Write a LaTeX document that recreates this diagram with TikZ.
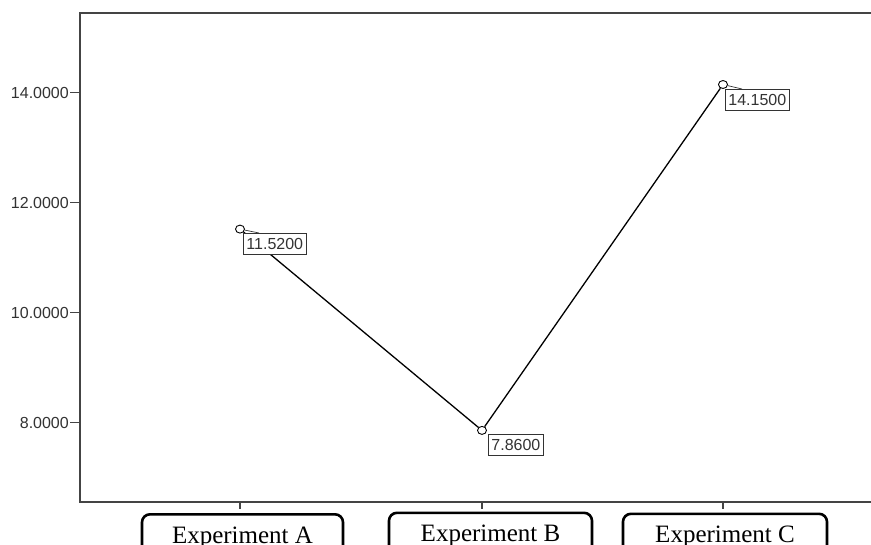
\documentclass[tikz,border=0pt]{standalone}
\usepackage{fontspec}
\setmainfont{Liberation Serif}
\newfontfamily\axfont{Liberation Sans}
\usetikzlibrary{shapes.geometric}
\definecolor{axgray}{HTML}{444444}
\definecolor{txtgray}{HTML}{333333}
\begin{document}
\begin{tikzpicture}[x=1pt,y=-1pt,
  axisline/.style={draw=axgray,line width=1.4pt},
  ticklab/.style={font=\axfont\fontsize{16}{16}\selectfont,text=txtgray,anchor=east,inner sep=0pt},
  ptmark/.style={ellipse,draw=black,line width=0.9pt,minimum width=9pt,minimum height=8pt,inner sep=0pt},
  vallab/.style={draw=txtgray,line width=0.9pt,fill=white,font=\axfont\fontsize{16}{16}\selectfont,text=txtgray,anchor=north west,inner xsep=3pt,inner ysep=2pt,minimum height=21pt},
  catbox/.style={draw=black,line width=2.6pt,rounded corners=8pt,anchor=north,font=\fontsize{25}{25}\selectfont,inner ysep=6pt,text height=23pt,text depth=30pt},
  dataline/.style={draw=black,line width=1.3pt}
]
\clip (0,0) rectangle (871,545);
\fill[white] (0,0) rectangle (871,545);
% frame
\coordinate (tl) at (80,13);
\coordinate (tr) at (871,13);
\coordinate (bl) at (80,502);
\coordinate (br) at (871,502);
\draw[axisline] (tr) -- (tl) -- (bl) -- (br);
% y ticks
\foreach \v/\yy in {14/92.7,12/202.7,10/312.7,8/422.7}{
  \draw[axisline] (70,\yy) -- (80,\yy);
  \node[ticklab] at (69,\yy) {\v.0000};
}
% x ticks
\foreach \xx in {240,482,723}{
  \draw[axisline] (\xx,502) -- (\xx,509);
}
% category boxes
\node[catbox,minimum width=201pt] (cA) at (242.5,513) {Experiment A};
\node[catbox,minimum width=203pt] (cB) at (490.5,511.5) {Experiment B};
\node[catbox,minimum width=204pt] (cC) at (725,512.5) {Experiment C};
% data
\node[ptmark] (pA) at (240,229.1) {};
\node[ptmark] (pB) at (482,430.4) {};
\node[ptmark] (pC) at (723,84.5) {};
\draw[dataline] (pA) -- (pB) -- (pC);
% value labels
\node[vallab] (lA) at (243,233) {11.5200};
\node[vallab] (lB) at (488,434) {7.8600};
\node[vallab] (lC) at (725,89) {14.1500};
\coordinate (kA) at (259,233);
\coordinate (kC) at (742,89);
\draw[line width=0.7pt,txtgray] (pA) -- (kA);
\draw[line width=0.7pt,txtgray] (pC) -- (kC);
\end{tikzpicture}
\end{document}
